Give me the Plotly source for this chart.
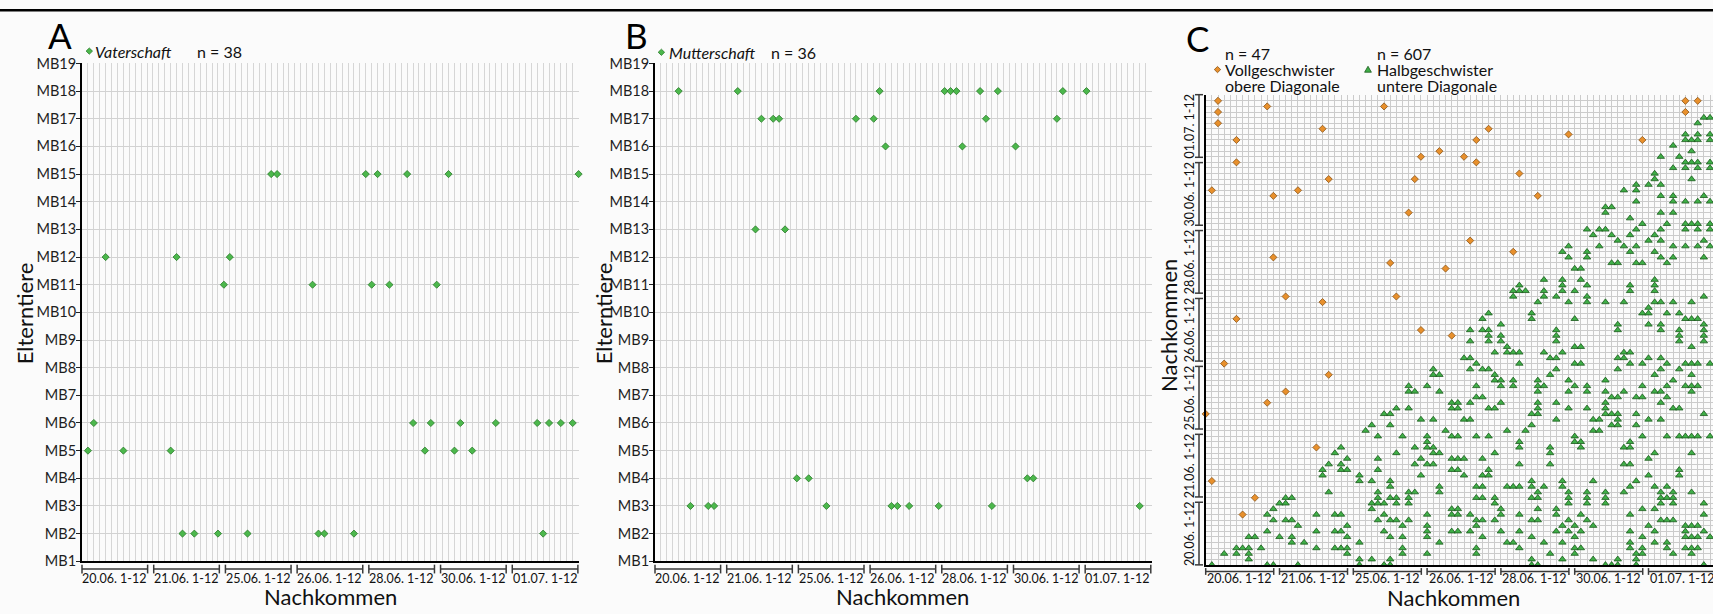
import plotly.graph_objects as go

W, H = 1713, 614
FONT = "Lato, 'Open Sans', sans-serif"

# ---------------------------------------------------------------- data
mb_labels = ["MB%d" % i for i in range(1, 20)]
day_labels = ["20.06. 1-12", "21.06. 1-12", "25.06. 1-12", "26.06. 1-12",
              "28.06. 1-12", "30.06. 1-12", "01.07. 1-12"]

# Elterntier (MB number) -> offspring positions (1..84)
vaterschaft = {
    15: [32, 33, 48, 50, 55, 62, 84],
    12: [4, 16, 25],
    11: [24, 39, 49, 52, 60],
    6: [2, 56, 59, 64, 70, 77, 79, 81, 83],
    5: [1, 7, 15, 58, 63, 66],
    2: [17, 19, 23, 28, 40, 41, 46, 78],
}
mutterschaft = {
    18: [4, 14, 38, 49, 50, 51, 55, 58, 69, 73],
    17: [18, 20, 21, 34, 37, 56, 68],
    16: [39, 52, 61],
    13: [17, 22],
    4: [24, 26, 63, 64],
    3: [6, 9, 10, 29, 40, 41, 43, 48, 57, 82],
}

# sibling matrix: row (y) -> columns (x)
vollgeschwister = {
    83: [2, 78, 80], 82: [10, 29], 81: [2, 78], 79: [2], 78: [19, 46],
    77: [59], 76: [5, 44, 71], 74: [38], 73: [35, 42], 72: [5, 44],
    70: [51], 69: [20, 34], 67: [1, 15], 66: [11, 54], 63: [33], 58: [43],
    56: [50], 55: [11], 54: [30], 53: [39], 48: [13, 31], 47: [19], 44: [5],
    42: [35], 41: [40], 36: [3], 34: [20], 31: [13], 29: [10], 27: [0],
    21: [18], 15: [1], 12: [8], 9: [6],
}
halbgeschwister = {
    80: [81, 82], 79: [80], 77: [78, 80, 82], 76: [78, 79, 80, 82], 75: [76],
    74: [79], 73: [74, 77], 72: [78, 79, 80, 82], 71: [76, 78, 80, 82],
    70: [73], 69: [73, 79], 68: [70, 72, 74], 67: [68, 70], 66: [74, 76, 81],
    65: [70, 76, 78, 80, 82], 64: [65, 66], 63: [65, 74, 76], 62: [69],
    61: [71, 75, 78, 79, 80, 82], 60: [62, 64, 65, 70, 74, 78, 80, 82],
    59: [63, 66, 69, 73], 58: [67, 72, 74, 81],
    57: [59, 64, 68, 70, 76, 78, 80, 82], 56: [58, 62, 69, 73],
    55: [59, 62, 74, 76, 81], 54: [66, 67, 70, 71, 75], 53: [60, 61],
    51: [55, 58, 61, 73], 50: [51, 58, 62, 69, 73],
    49: [50, 51, 52, 55, 58, 60, 69, 73], 48: [50, 55, 57, 62, 81],
    47: [54, 59, 62, 65, 68, 73, 74, 76, 79], 46: [72],
    45: [46, 53, 71, 72, 75, 77], 44: [45, 53, 60, 78, 79, 80],
    43: [48, 67, 72, 74, 81], 42: [43, 45, 46, 57, 67, 74, 77, 81],
    41: [46, 48, 57, 77, 81], 40: [43, 46, 48, 57, 77, 81],
    39: [49, 60, 61, 79], 38: [47, 49, 50, 51, 55, 58, 68, 69],
    37: [42, 43, 56, 57, 67, 68, 72, 74],
    36: [44, 51, 60, 61, 69, 71, 75, 78, 79, 80, 82],
    35: [37, 43, 45, 46, 57, 67, 74, 77], 34: [37, 38, 47, 56, 73, 79],
    33: [47, 48, 50, 54, 59, 65, 76],
    32: [33, 36, 44, 48, 50, 54, 55, 60, 62, 71, 75, 78, 79, 80],
    31: [33, 34, 38, 54, 59, 62, 65, 68, 73, 74, 79],
    30: [44, 45, 66, 67, 70, 71, 75],
    29: [40, 41, 43, 48, 54, 57, 65, 74],
    28: [31, 33, 40, 41, 46, 47, 54, 59, 62, 65, 76, 77],
    27: [29, 30, 53, 54, 65, 66, 67, 70, 81],
    26: [35, 37, 42, 43, 57, 63, 64, 67, 72, 74],
    25: [27, 30, 53, 66, 67, 70], 24: [26, 39, 49, 52, 63, 64],
    23: [28, 32, 36, 40, 41, 44, 46, 60, 71, 75, 77, 78, 79, 80, 82],
    22: [36, 51, 60, 61, 69], 21: [22, 34, 36, 37, 51, 56, 61, 68, 69],
    20: [21, 31, 37, 38, 47, 56, 73, 79],
    19: [23, 28, 35, 40, 41, 42, 45, 72],
    18: [20, 22, 34, 36, 37, 51, 56, 68, 69],
    17: [19, 22, 23, 28, 40, 41, 46, 77],
    16: [19, 25, 35, 42, 45, 46, 72, 77],
    15: [25, 27, 30, 53, 58, 63, 70],
    14: [30, 38, 44, 45, 49, 50, 51, 53, 55, 58, 69, 73, 75],
    13: [20, 28, 33, 34, 38, 54, 59, 62, 65, 68, 74, 76, 79],
    12: [13, 14, 28, 30, 31, 33, 44, 45, 47, 53, 54, 59, 62, 65, 74, 75, 76],
    11: [12, 13, 27, 28, 29, 31, 33, 47, 59, 62, 65, 74, 76, 81],
    10: [11, 27, 40, 41, 48, 54, 57, 71, 73],
    9: [10, 18, 21, 22, 29, 36, 40, 41, 43, 48, 51, 57, 61, 69, 81],
    8: [11, 13, 14, 28, 30, 31, 33, 44, 45, 47, 53, 54, 59, 62, 74, 75, 76],
    7: [15, 23, 32, 36, 44, 58, 60, 63, 72, 78, 79, 80],
    6: [10, 18, 21, 22, 29, 36, 40, 41, 43, 48, 51, 57, 59, 61, 69, 73, 78, 81],
    5: [7, 8, 12, 14, 23, 30, 32, 36, 45, 53, 60, 71, 78, 79, 80, 82],
    4: [14, 16, 25, 38, 49, 50, 55, 58, 69, 73, 75],
    3: [5, 6, 7, 9, 18, 21, 22, 23, 32, 44, 51, 60, 61, 69, 71, 75, 78, 79, 80],
    2: [3, 5, 7, 23, 32, 36, 44, 56, 60, 70, 71, 76, 79],
    1: [7, 25, 27, 30, 53, 58, 63, 67, 70],
    0: [1, 10, 11, 15, 25, 29, 30, 53, 54, 65, 66, 67, 70, 81],
}

# ---------------------------------------------------------------- geometry
# plot areas in page pixels
GEO = {
    "A": dict(left=82.0, right=578.6, top=56.0, bottom=568.0, xr=(0, 84), yr=(1, 19)),
    "B": dict(left=655.0, right=1151.5, top=56.0, bottom=568.0, xr=(0, 84), yr=(1, 19)),
    "C": dict(left=1205.7, right=1713.0, top=88.7, bottom=571.7,
              xr=(0, (1713.0 - 1205.7) / 6.15), yr=(0, 84)),
}


def fx(px):
    return px / W


def fy(py):
    return 1 - py / H


def val_px_x(p, v):
    g = GEO[p]
    r0, r1 = g["xr"]
    return g["left"] + (v - r0) / (r1 - r0) * (g["right"] - g["left"])


def val_px_y(p, v):
    g = GEO[p]
    r0, r1 = g["yr"]
    return g["bottom"] - (v - r0) / (r1 - r0) * (g["bottom"] - g["top"])


def flatten(d):
    xs, ys = [], []
    for row, cols in d.items():
        for c in cols:
            xs.append(c)
            ys.append(row)
    return xs, ys


GREEN = "#4cb84c"
GREEN_EDGE = "#2a7a2a"
TRI = "#3fae47"
TRI_EDGE = "#1a5a1c"
ORANGE = "#e8902c"
ORANGE_EDGE = "#8a5418"

fig = go.Figure()

for key, data, xa, ya in (("A", vaterschaft, "x", "y"), ("B", mutterschaft, "x2", "y2")):
    xs, ys = flatten(data)
    fig.add_trace(go.Scatter(
        x=xs, y=ys, xaxis=xa, yaxis=ya, mode="markers", cliponaxis=False,
        hoverinfo="skip", showlegend=False,
        marker=dict(symbol="diamond", size=5.5, color=GREEN,
                    line=dict(color=GREEN_EDGE, width=0.8))))

hx, hy = flatten(halbgeschwister)
fig.add_trace(go.Scatter(
    x=hx, y=hy, xaxis="x3", yaxis="y3", mode="markers", cliponaxis=False,
    hoverinfo="skip", showlegend=False,
    marker=dict(symbol="triangle-up", size=6.5, color=TRI,
                line=dict(color=TRI_EDGE, width=0.8))))
vx, vy = flatten(vollgeschwister)
fig.add_trace(go.Scatter(
    x=vx, y=vy, xaxis="x3", yaxis="y3", mode="markers", cliponaxis=False,
    hoverinfo="skip", showlegend=False,
    marker=dict(symbol="diamond", size=5.5, color=ORANGE,
                line=dict(color=ORANGE_EDGE, width=0.8))))

# ---------------------------------------------------------------- axes
def xaxis_cfg(p, grid):
    g = GEO[p]
    return dict(domain=[fx(g["left"]), fx(g["right"])], range=list(g["xr"]),
                showgrid=True, gridcolor=grid, gridwidth=1, dtick=1, tick0=0,
                showticklabels=False, ticks="", zeroline=False,
                showline=True, linecolor="black", linewidth=2, fixedrange=True)


def yaxis_cfg(p, grid, labels):
    g = GEO[p]
    cfg = dict(domain=[fy(g["bottom"]), fy(g["top"])], range=list(g["yr"]),
               showgrid=True, gridcolor=grid, gridwidth=1, zeroline=False,
               showline=True, linecolor="black", linewidth=2, fixedrange=True)
    if labels:
        cfg.update(tickvals=list(range(1, 20)), ticktext=mb_labels,
                   ticks="outside", ticklen=4, tickcolor="#222", tickwidth=1,
                   ticklabelstandoff=-3,
                   tickfont=dict(family=FONT, size=14.5, color="#1e1e1e"))
    else:
        cfg.update(dtick=1, tick0=0, ticks="", showticklabels=False)
    return cfg


shapes = []
annotations = []

# black rule along the top edge
shapes.append(dict(type="rect", xref="paper", yref="paper", x0=0, x1=1,
                   y0=fy(2.5), y1=1, line=dict(width=0), fillcolor="black"))


def add_text(text, px, py, size, anchor="left", angle=0, color="#111"):
    annotations.append(dict(text=text, x=fx(px), y=fy(py), xref="paper", yref="paper",
                            showarrow=False, xanchor=anchor, yanchor="middle",
                            textangle=angle, borderpad=0,
                            font=dict(family=FONT, size=size, color=color)))


def line(x0, y0, x1, y1, color="#3a3a3a", width=1.5):
    shapes.append(dict(type="line", xref="paper", yref="paper",
                       x0=fx(x0), y0=fy(y0), x1=fx(x1), y1=fy(y1),
                       line=dict(color=color, width=width)))


def diamond_icon(cx, cy, r, fill, edge):
    path = "M {} {} L {} {} L {} {} L {} {} Z".format(
        fx(cx), fy(cy - r), fx(cx + r), fy(cy), fx(cx), fy(cy + r), fx(cx - r), fy(cy))
    shapes.append(dict(type="path", xref="paper", yref="paper", path=path,
                       fillcolor=fill, line=dict(color=edge, width=0.8)))


def triangle_icon(cx, cy, r, fill, edge):
    path = "M {} {} L {} {} L {} {} Z".format(
        fx(cx - r), fy(cy + r * 0.8), fx(cx + r), fy(cy + r * 0.8), fx(cx), fy(cy - r))
    shapes.append(dict(type="path", xref="paper", yref="paper", path=path,
                       fillcolor=fill, line=dict(color=edge, width=0.8)))


# day brackets below the x axes of A and B
for p in ("A", "B"):
    for i, lab in enumerate(day_labels):
        s = val_px_x(p, i * 12.13)
        e = val_px_x(p, i * 12.13 + 11.1)
        line(s, 576, e, 576)
        line(s, 571.5, s, 580.5)
        line(e, 571.5, e, 580.5)
        add_text(lab, (s + e) / 2, 586, 12.5, anchor="center")

# day brackets of C (x and y)
for i, lab in enumerate(day_labels):
    s = val_px_x("C", i * 12)
    e = val_px_x("C", i * 12 + 11.06)
    line(s, 578.5, e, 578.5)
    line(s, 575, s, 582)
    line(e, 575, e, 582)
    add_text(lab, (s + e) / 2, 585.5, 12.5, anchor="center")

    s = val_px_y("C", i * 12.15)
    e = val_px_y("C", i * 12.15 + 11.2)
    line(1199, s, 1199, e)
    line(1195, s, 1203, s)
    line(1195, e, 1203, e)
    add_text(lab, 1189.5, (s + e) / 2, 12.5, anchor="center", angle=-90)

# panel letters
add_text("A", 60.5, 27, 35, anchor="center", color="black")
add_text("B", 636.5, 27, 35, anchor="center", color="black")
add_text("C", 1197.5, 30, 35, anchor="center", color="black")

# axis titles
add_text("Elterntiere", 24, 313, 22, anchor="center", angle=-90)
add_text("Elterntiere", 603, 313, 22, anchor="center", angle=-90)
add_text("Nachkommen", 330, 604, 22, anchor="center")
add_text("Nachkommen", 903, 604, 22, anchor="center")
add_text("Nachkommen", 1453, 605.5, 22, anchor="center")
add_text("Nachkommen", 1169, 326, 22, anchor="center", angle=-90)

# legends
diamond_icon(89.3, 43.3, 3.2, GREEN, GREEN_EDGE)
add_text("<i>Vaterschaft</i>", 94, 43.5, 16)
add_text("n = 38", 195.5, 43.5, 16)

diamond_icon(661.4, 44.5, 3.2, GREEN, GREEN_EDGE)
add_text("<i>Mutterschaft</i>", 668, 45, 16)
add_text("n = 36", 770, 45, 16)

add_text("n = 47", 1223.5, 45.5, 16)
diamond_icon(1217.5, 62.3, 3.2, ORANGE, ORANGE_EDGE)
add_text("Vollgeschwister", 1223.5, 62.5, 16)
add_text("obere Diagonale", 1223.5, 79, 16)

add_text("n = 607", 1375.5, 45.5, 16)
triangle_icon(1368, 62.3, 3.4, TRI, TRI_EDGE)
add_text("Halbgeschwister", 1375.5, 62.5, 16)
add_text("untere Diagonale", 1375.5, 79, 16)

fig.update_layout(
    width=W, height=H,
    margin=dict(l=0, r=0, t=0, b=0),
    paper_bgcolor="#fbfbfb", plot_bgcolor="#fbfbfb",
    showlegend=False,
    font=dict(family=FONT, color="#111"),
    xaxis=dict(**xaxis_cfg("A", "#d6d6d6"), anchor="y"),
    yaxis=dict(**yaxis_cfg("A", "#d2d2d2", True), anchor="x"),
    xaxis2=dict(**xaxis_cfg("B", "#d6d6d6"), anchor="y2"),
    yaxis2=dict(**yaxis_cfg("B", "#d2d2d2", True), anchor="x2"),
    xaxis3=dict(**xaxis_cfg("C", "#cbcbcb"), anchor="y3"),
    yaxis3=dict(**yaxis_cfg("C", "#cbcbcb", False), anchor="x3"),
    shapes=shapes,
    annotations=annotations,
)

fig.write_html("out.html")
